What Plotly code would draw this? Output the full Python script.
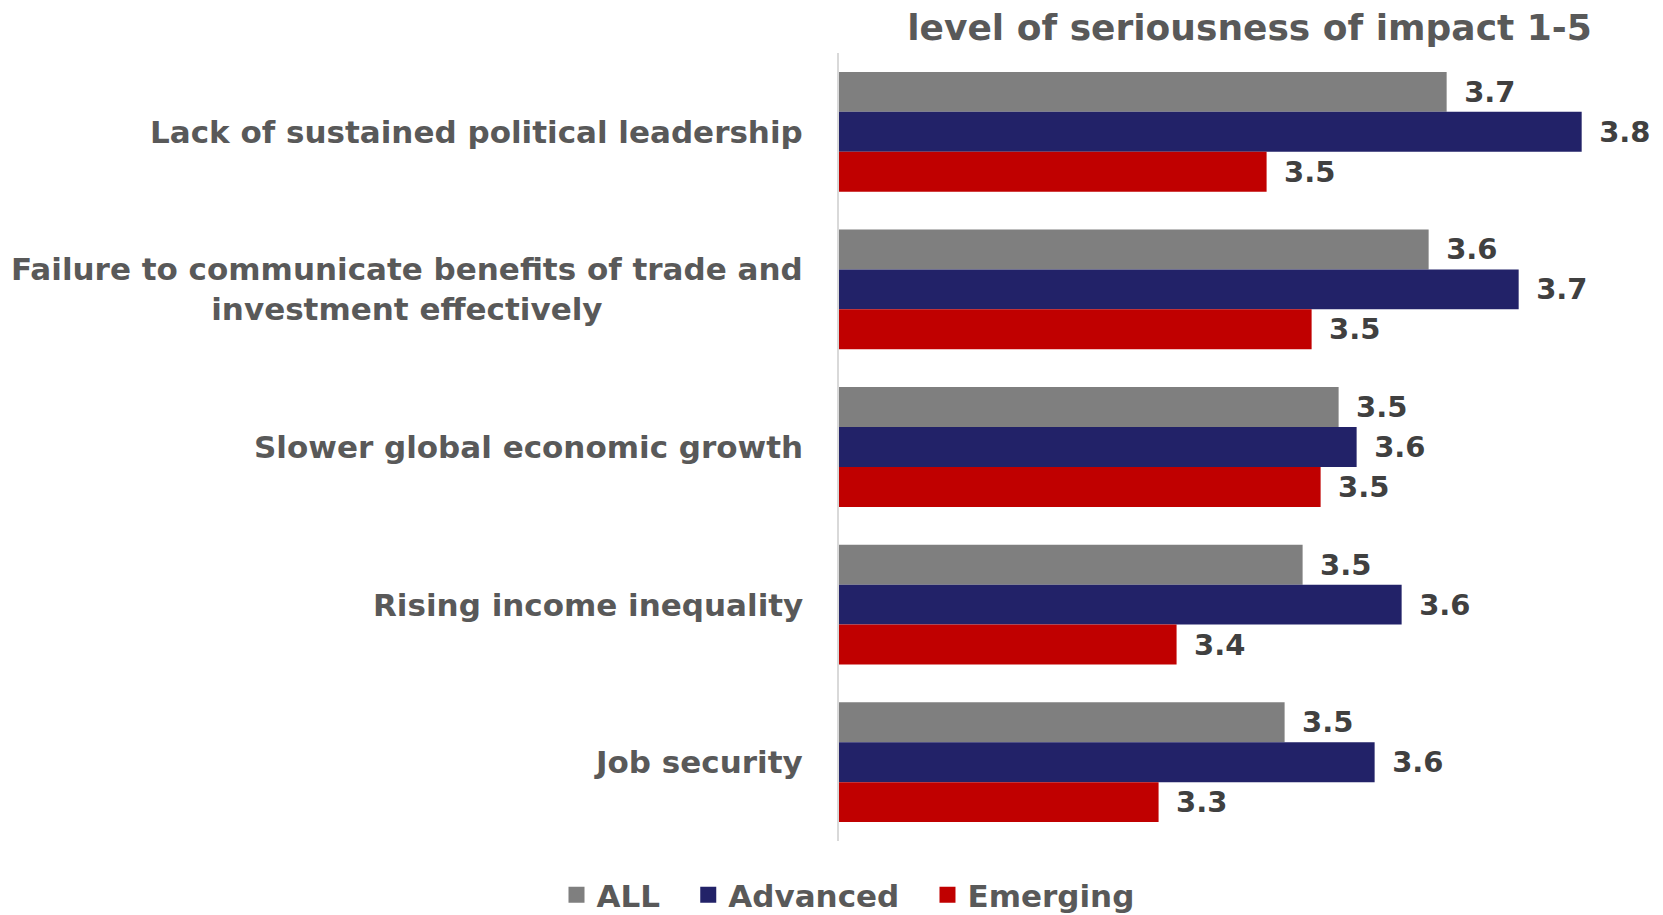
import plotly.graph_objects as go

# Survey: level of seriousness of impact (scale 1-5), by respondent group
categories = [
    "Lack of sustained political leadership",
    "Failure to communicate benefits of trade and<br>investment effectively",
    "Slower global economic growth",
    "Rising income inequality",
    "Job security",
]
series_names = ["ALL", "Advanced", "Emerging"]
all_values = [3.66, 3.64, 3.54, 3.50, 3.48]
advanced_values = [3.81, 3.74, 3.56, 3.61, 3.58]
emerging_values = [3.46, 3.51, 3.52, 3.36, 3.34]

colors = ["#7F7F7F", "#222268", "#C00000"]
TEXT_GREY = "#595959"
VALUE_GREY = "#404040"
FONT = "DejaVu Sans"

W, H = 1663, 915
fig = go.Figure()

for i, (name, vals, col) in enumerate(zip(series_names,
                                          [all_values, advanced_values, emerging_values],
                                          colors)):
    fig.add_trace(go.Bar(
        name=name,
        y=categories,
        x=vals,
        orientation="h",
        marker=dict(color=col, line=dict(width=0)),
        texttemplate="\u2002%{x:.1f}",
        textposition="outside",
        textfont=dict(family=FONT, size=29, color=VALUE_GREY, weight="bold"),
        constraintext="none",
        cliponaxis=False,
        showlegend=False,
        hoverinfo="skip",
    ))
    # legend swatch (trailing spaces widen the gap to the next entry)
    fig.add_trace(go.Scatter(
        name=name + ("\u2002\u2005" if i < len(series_names) - 1 else ""),
        x=[None], y=[None], mode="markers",
        marker=dict(symbol="square", size=19, color=col),
        showlegend=True,
    ))

# category labels: right-aligned block, centred lines
for cat in categories:
    fig.add_annotation(
        x=0, xref="paper", xanchor="right", xshift=-34,
        y=cat, yref="y", yanchor="middle",
        text=cat, showarrow=False, align="center",
        font=dict(family=FONT, size=31, color=TEXT_GREY, weight="bold"),
    )

fig.update_layout(
    width=W, height=H,
    margin=dict(l=839, r=3, t=53, b=74),
    paper_bgcolor="white",
    plot_bgcolor="white",
    font=dict(family=FONT, color=TEXT_GREY, weight="bold"),
    barmode="group",
    bargap=0.24,
    bargroupgap=0,
    title=dict(
        text="level of seriousness of impact 1-5",
        x=0.5, xref="paper", xanchor="center",
        y=1 - 27 / H, yref="container", yanchor="middle",
        font=dict(family=FONT, size=36, color=TEXT_GREY, weight="bold"),
    ),
    xaxis=dict(
        range=[2.985, 3.897],
        showticklabels=False, showgrid=False, zeroline=False,
        showline=False, ticks="",
    ),
    yaxis=dict(
        autorange="reversed",
        showticklabels=False, showgrid=False, zeroline=False,
        showline=True, linecolor="#D9D9D9", linewidth=2, ticks="",
    ),
    legend=dict(
        orientation="h",
        xref="container", yref="container",
        x=848 / W, xanchor="center",
        y=1 - 895 / H, yanchor="middle",
        font=dict(family=FONT, size=31, color=TEXT_GREY, weight="bold"),
        bgcolor="rgba(0,0,0,0)",
        itemclick=False, itemdoubleclick=False,
    ),
)

fig.write_html("out.html")
